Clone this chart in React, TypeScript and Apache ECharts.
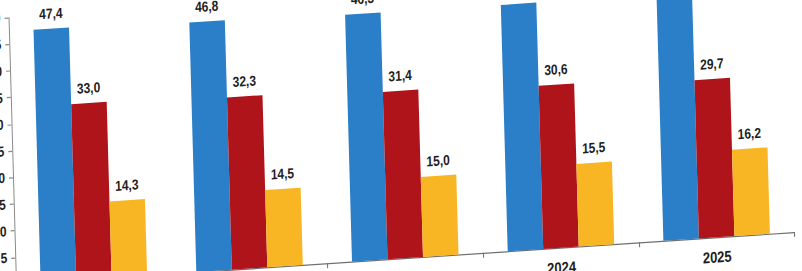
import React, { useEffect, useRef } from "react";
import * as echarts from "echarts";

const years = ["2021", "2022", "2023", "2024", "2025"];
const blueValues = [47.4, 46.8, 46.3, 46.2, 46.0];
const redValues = [33.0, 32.3, 31.4, 30.6, 29.7];
const yellowValues = [14.3, 14.5, 15.0, 15.5, 16.2];
const yMin = 0;
const yMax = 50;
const yStep = 5;

const GL = 40;
const GT = 30;
const GW = 778.5;
const GH = 222.1;

const fmt = (p: any) => Number(p.value).toFixed(1).replace(".", ",");

export default function App() {
  const ref = useRef<HTMLDivElement>(null);
  useEffect(() => {
    if (!ref.current) return;
    const chart = echarts.init(ref.current, undefined, { renderer: "svg" });
    const font = "'Liberation Sans', Arial, sans-serif";
    const label = {
      show: true,
      position: "top",
      distance: 6.5,
      formatter: fmt,
      fontFamily: font,
      fontWeight: "bold",
      fontSize: 12,
      color: "#1e1e1e",
    };
    chart.setOption({
      animation: false,
      backgroundColor: "#ffffff",
      grid: { left: GL, top: GT, width: GW, height: GH, containLabel: false },
      xAxis: {
        type: "category",
        data: years,
        axisLine: { show: true, lineStyle: { color: "#6f6f6f", width: 1 } },
        axisTick: { show: true, length: 4, alignWithLabel: false, lineStyle: { color: "#6f6f6f" } },
        axisLabel: {
          margin: 10,
          fontFamily: font,
          fontWeight: "bold",
          fontSize: 13,
          color: "#1e1e1e",
        },
      },
      yAxis: {
        type: "value",
        min: yMin,
        max: yMax,
        interval: yStep,
        splitLine: { show: false },
        axisLine: { show: true, lineStyle: { color: "#8a8a8a", width: 1 } },
        axisTick: { show: true, length: 4, lineStyle: { color: "#8a8a8a" } },
        axisLabel: {
          margin: 8,
          fontFamily: font,
          fontWeight: "bold",
          fontSize: 12,
          color: "#1e1e1e",
        },
      },
      series: [
        {
          name: "A",
          type: "bar",
          data: blueValues,
          barGap: "0%",
          barCategoryGap: "31.6%",
          itemStyle: { color: "#2a7fc8" },
          label,
        },
        {
          name: "B",
          type: "bar",
          data: redValues,
          barGap: "0%",
          barCategoryGap: "31.6%",
          itemStyle: { color: "#ae1419" },
          label,
        },
        {
          name: "C",
          type: "bar",
          data: yellowValues,
          barGap: "0%",
          barCategoryGap: "31.6%",
          itemStyle: { color: "#f8b625" },
          label,
        },
      ],
    });
    return () => chart.dispose();
  }, []);

  return (
    <div
      style={{
        position: "absolute",
        left: 0,
        top: 0,
        width: 802,
        height: 271,
        overflow: "hidden",
        background: "#ffffff",
      }}
    >
      <div
        ref={ref}
        style={{
          position: "absolute",
          left: 15.8 - GL,
          top: 283.7 - (GT + GH),
          width: 850,
          height: 305,
          transformOrigin: `${GL}px ${GT + GH}px`,
          transform: "matrix(1, -0.0668, 0.0336, 1.2, 0, 0)",
        }}
      />
    </div>
  );
}
